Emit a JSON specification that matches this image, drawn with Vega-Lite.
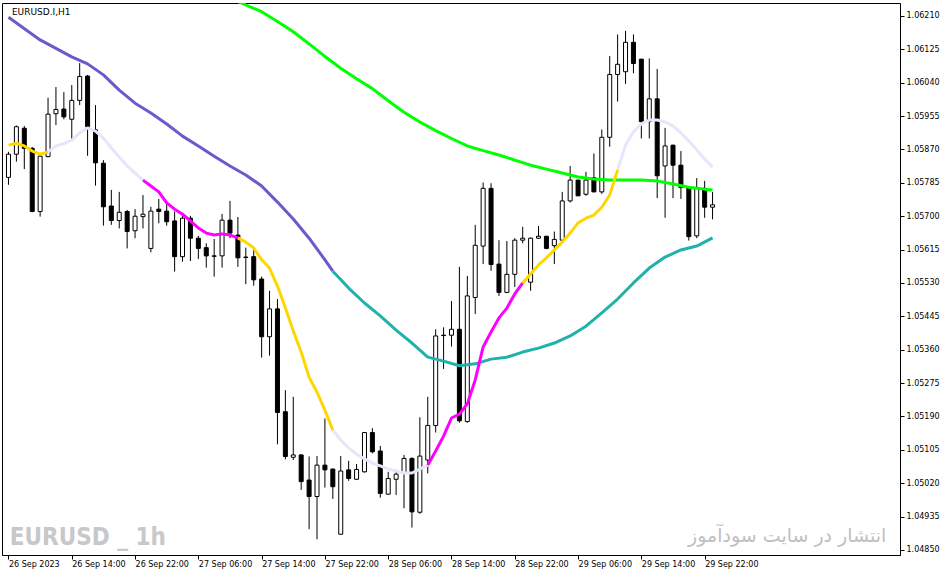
{
  "$schema": "https://vega.github.io/schema/vega-lite/v6.json",
  "width": 898,
  "height": 552,
  "autosize": {"type": "none"},
  "padding": {"left": 2, "top": 3, "right": 46, "bottom": 21},
  "background": "white",
  "config": {
    "view": {"stroke": "black", "strokeWidth": 1},
    "axis": {"labelFont": "DejaVu Sans", "labelFontSize": 8, "labelColor": "black", "domainColor": "black", "tickColor": "black", "grid": false, "title": null, "labelOverlap": false, "labelFlush": false}
  },
  "datasets": {
    "candles": [
      {"t":"2023-09-26T06:00Z","o":1.05799,"h":1.05864,"l":1.05780,"c":1.05858},
      {"t":"2023-09-26T07:00Z","o":1.05858,"h":1.05931,"l":1.05839,"c":1.05928},
      {"t":"2023-09-26T08:00Z","o":1.05924,"h":1.05930,"l":1.05820,"c":1.05873},
      {"t":"2023-09-26T09:00Z","o":1.05873,"h":1.05876,"l":1.05710,"c":1.05712},
      {"t":"2023-09-26T10:00Z","o":1.05712,"h":1.05858,"l":1.05699,"c":1.05853},
      {"t":"2023-09-26T11:00Z","o":1.05852,"h":1.06002,"l":1.05850,"c":1.05960},
      {"t":"2023-09-26T12:00Z","o":1.05961,"h":1.06029,"l":1.05932,"c":1.05972},
      {"t":"2023-09-26T13:00Z","o":1.05973,"h":1.06016,"l":1.05947,"c":1.05953},
      {"t":"2023-09-26T14:00Z","o":1.05947,"h":1.06034,"l":1.05894,"c":1.05995},
      {"t":"2023-09-26T15:00Z","o":1.05995,"h":1.06090,"l":1.05983,"c":1.06056},
      {"t":"2023-09-26T16:00Z","o":1.06057,"h":1.06060,"l":1.05854,"c":1.05928},
      {"t":"2023-09-26T17:00Z","o":1.05920,"h":1.05983,"l":1.05778,"c":1.05836},
      {"t":"2023-09-26T18:00Z","o":1.05835,"h":1.05843,"l":1.05676,"c":1.05724},
      {"t":"2023-09-26T19:00Z","o":1.05726,"h":1.05767,"l":1.05678,"c":1.05689},
      {"t":"2023-09-26T20:00Z","o":1.05689,"h":1.05762,"l":1.05669,"c":1.05710},
      {"t":"2023-09-26T21:00Z","o":1.05712,"h":1.05716,"l":1.05618,"c":1.05661},
      {"t":"2023-09-26T22:00Z","o":1.05663,"h":1.05718,"l":1.05644,"c":1.05700},
      {"t":"2023-09-26T23:00Z","o":1.05699,"h":1.05754,"l":1.05669,"c":1.05705},
      {"t":"2023-09-27T00:00Z","o":1.05618,"h":1.05724,"l":1.05608,"c":1.05713},
      {"t":"2023-09-27T01:00Z","o":1.05718,"h":1.05744,"l":1.05682,"c":1.05712},
      {"t":"2023-09-27T02:00Z","o":1.05713,"h":1.05737,"l":1.05676,"c":1.05686},
      {"t":"2023-09-27T03:00Z","o":1.05688,"h":1.05712,"l":1.05559,"c":1.05597},
      {"t":"2023-09-27T04:00Z","o":1.05597,"h":1.05707,"l":1.05584,"c":1.05695},
      {"t":"2023-09-27T05:00Z","o":1.05695,"h":1.05701,"l":1.05586,"c":1.05644},
      {"t":"2023-09-27T06:00Z","o":1.05644,"h":1.05650,"l":1.05591,"c":1.05618},
      {"t":"2023-09-27T07:00Z","o":1.05620,"h":1.05631,"l":1.05569,"c":1.05599},
      {"t":"2023-09-27T08:00Z","o":1.05599,"h":1.05642,"l":1.05546,"c":1.05598},
      {"t":"2023-09-27T09:00Z","o":1.05599,"h":1.05706,"l":1.05569,"c":1.05690},
      {"t":"2023-09-27T10:00Z","o":1.05690,"h":1.05739,"l":1.05644,"c":1.05657},
      {"t":"2023-09-27T11:00Z","o":1.05652,"h":1.05698,"l":1.05571,"c":1.05594},
      {"t":"2023-09-27T12:00Z","o":1.05596,"h":1.05620,"l":1.05527,"c":1.05595},
      {"t":"2023-09-27T13:00Z","o":1.05597,"h":1.05614,"l":1.05523,"c":1.05538},
      {"t":"2023-09-27T14:00Z","o":1.05540,"h":1.05546,"l":1.05340,"c":1.05393},
      {"t":"2023-09-27T15:00Z","o":1.05393,"h":1.05510,"l":1.05345,"c":1.05464},
      {"t":"2023-09-27T16:00Z","o":1.05464,"h":1.05489,"l":1.05119,"c":1.05200},
      {"t":"2023-09-27T17:00Z","o":1.05202,"h":1.05257,"l":1.05081,"c":1.05088},
      {"t":"2023-09-27T18:00Z","o":1.05086,"h":1.05240,"l":1.05079,"c":1.05092},
      {"t":"2023-09-27T19:00Z","o":1.05092,"h":1.05093,"l":1.05003,"c":1.05024},
      {"t":"2023-09-27T20:00Z","o":1.05028,"h":1.05088,"l":1.04903,"c":1.04986},
      {"t":"2023-09-27T21:00Z","o":1.04986,"h":1.05089,"l":1.04877,"c":1.05066},
      {"t":"2023-09-27T22:00Z","o":1.05066,"h":1.05185,"l":1.05009,"c":1.05054},
      {"t":"2023-09-27T23:00Z","o":1.05056,"h":1.05057,"l":1.04980,"c":1.05011},
      {"t":"2023-09-28T00:00Z","o":1.04890,"h":1.05089,"l":1.04889,"c":1.05051},
      {"t":"2023-09-28T01:00Z","o":1.05054,"h":1.05077,"l":1.05026,"c":1.05032},
      {"t":"2023-09-28T02:00Z","o":1.05030,"h":1.05069,"l":1.05028,"c":1.05055},
      {"t":"2023-09-28T03:00Z","o":1.05049,"h":1.05150,"l":1.05047,"c":1.05149},
      {"t":"2023-09-28T04:00Z","o":1.05149,"h":1.05160,"l":1.05096,"c":1.05100},
      {"t":"2023-09-28T05:00Z","o":1.05102,"h":1.05115,"l":1.04983,"c":1.04994},
      {"t":"2023-09-28T06:00Z","o":1.04992,"h":1.05049,"l":1.04990,"c":1.05032},
      {"t":"2023-09-28T07:00Z","o":1.05030,"h":1.05054,"l":1.04990,"c":1.05043},
      {"t":"2023-09-28T08:00Z","o":1.05045,"h":1.05092,"l":1.04956,"c":1.05083},
      {"t":"2023-09-28T09:00Z","o":1.05083,"h":1.05086,"l":1.04907,"c":1.04947},
      {"t":"2023-09-28T10:00Z","o":1.04946,"h":1.05188,"l":1.04942,"c":1.05089},
      {"t":"2023-09-28T11:00Z","o":1.05079,"h":1.05240,"l":1.05045,"c":1.05167},
      {"t":"2023-09-28T12:00Z","o":1.05167,"h":1.05412,"l":1.05149,"c":1.05395},
      {"t":"2023-09-28T13:00Z","o":1.05397,"h":1.05417,"l":1.05311,"c":1.05396},
      {"t":"2023-09-28T14:00Z","o":1.05397,"h":1.05484,"l":1.05368,"c":1.05412},
      {"t":"2023-09-28T15:00Z","o":1.05412,"h":1.05571,"l":1.05174,"c":1.05179},
      {"t":"2023-09-28T16:00Z","o":1.05177,"h":1.05548,"l":1.05174,"c":1.05497},
      {"t":"2023-09-28T17:00Z","o":1.05493,"h":1.05678,"l":1.05451,"c":1.05626},
      {"t":"2023-09-28T18:00Z","o":1.05624,"h":1.05786,"l":1.05578,"c":1.05771},
      {"t":"2023-09-28T19:00Z","o":1.05771,"h":1.05784,"l":1.05561,"c":1.05577},
      {"t":"2023-09-28T20:00Z","o":1.05578,"h":1.05639,"l":1.05497,"c":1.05506},
      {"t":"2023-09-28T21:00Z","o":1.05506,"h":1.05637,"l":1.05504,"c":1.05552},
      {"t":"2023-09-28T22:00Z","o":1.05552,"h":1.05644,"l":1.05520,"c":1.05639},
      {"t":"2023-09-28T23:00Z","o":1.05639,"h":1.05673,"l":1.05631,"c":1.05644},
      {"t":"2023-09-29T00:00Z","o":1.05532,"h":1.05646,"l":1.05510,"c":1.05644},
      {"t":"2023-09-29T01:00Z","o":1.05644,"h":1.05675,"l":1.05643,"c":1.05649},
      {"t":"2023-09-29T02:00Z","o":1.05649,"h":1.05650,"l":1.05616,"c":1.05618},
      {"t":"2023-09-29T03:00Z","o":1.05625,"h":1.05661,"l":1.05578,"c":1.05641},
      {"t":"2023-09-29T04:00Z","o":1.05639,"h":1.05762,"l":1.05638,"c":1.05739},
      {"t":"2023-09-29T05:00Z","o":1.05739,"h":1.05828,"l":1.05735,"c":1.05792},
      {"t":"2023-09-29T06:00Z","o":1.05792,"h":1.05793,"l":1.05751,"c":1.05752},
      {"t":"2023-09-29T07:00Z","o":1.05756,"h":1.05813,"l":1.05752,"c":1.05792},
      {"t":"2023-09-29T08:00Z","o":1.05798,"h":1.05860,"l":1.05761,"c":1.05762},
      {"t":"2023-09-29T09:00Z","o":1.05762,"h":1.05921,"l":1.05757,"c":1.05901},
      {"t":"2023-09-29T10:00Z","o":1.05901,"h":1.06108,"l":1.05877,"c":1.06061},
      {"t":"2023-09-29T11:00Z","o":1.06061,"h":1.06163,"l":1.05992,"c":1.06087},
      {"t":"2023-09-29T12:00Z","o":1.06068,"h":1.06172,"l":1.06037,"c":1.06143},
      {"t":"2023-09-29T13:00Z","o":1.06143,"h":1.06163,"l":1.06064,"c":1.06089},
      {"t":"2023-09-29T14:00Z","o":1.06100,"h":1.06101,"l":1.05898,"c":1.05941},
      {"t":"2023-09-29T15:00Z","o":1.05941,"h":1.06102,"l":1.05898,"c":1.05999},
      {"t":"2023-09-29T16:00Z","o":1.05999,"h":1.06075,"l":1.05746,"c":1.05803},
      {"t":"2023-09-29T17:00Z","o":1.05828,"h":1.05925,"l":1.05696,"c":1.05879},
      {"t":"2023-09-29T18:00Z","o":1.05881,"h":1.05882,"l":1.05746,"c":1.05830},
      {"t":"2023-09-29T19:00Z","o":1.05830,"h":1.05866,"l":1.05744,"c":1.05773},
      {"t":"2023-09-29T20:00Z","o":1.05773,"h":1.05774,"l":1.05638,"c":1.05648},
      {"t":"2023-09-29T21:00Z","o":1.05650,"h":1.05797,"l":1.05644,"c":1.05771},
      {"t":"2023-09-29T22:00Z","o":1.05771,"h":1.05790,"l":1.05696,"c":1.05723},
      {"t":"2023-09-29T23:00Z","o":1.05723,"h":1.05762,"l":1.05692,"c":1.05729}
    ],
    "slowlines": [
      {"t":"2023-09-26T06:00Z","v":1.06207,"seg":"m1","state":"medium falling"},
      {"t":"2023-09-26T10:00Z","v":1.06149,"seg":"m1","state":"medium falling"},
      {"t":"2023-09-26T14:00Z","v":1.06106,"seg":"m1","state":"medium falling"},
      {"t":"2023-09-26T16:00Z","v":1.06088,"seg":"m1","state":"medium falling"},
      {"t":"2023-09-26T18:00Z","v":1.06060,"seg":"m1","state":"medium falling"},
      {"t":"2023-09-26T20:00Z","v":1.06021,"seg":"m1","state":"medium falling"},
      {"t":"2023-09-26T22:00Z","v":1.05988,"seg":"m1","state":"medium falling"},
      {"t":"2023-09-27T00:00Z","v":1.05963,"seg":"m1","state":"medium falling"},
      {"t":"2023-09-27T02:00Z","v":1.05935,"seg":"m1","state":"medium falling"},
      {"t":"2023-09-27T04:00Z","v":1.05904,"seg":"m1","state":"medium falling"},
      {"t":"2023-09-27T06:00Z","v":1.05879,"seg":"m1","state":"medium falling"},
      {"t":"2023-09-27T08:00Z","v":1.05853,"seg":"m1","state":"medium falling"},
      {"t":"2023-09-27T10:00Z","v":1.05828,"seg":"m1","state":"medium falling"},
      {"t":"2023-09-27T12:00Z","v":1.05805,"seg":"m1","state":"medium falling"},
      {"t":"2023-09-27T14:00Z","v":1.05777,"seg":"m1","state":"medium falling"},
      {"t":"2023-09-27T16:00Z","v":1.05736,"seg":"m1","state":"medium falling"},
      {"t":"2023-09-27T18:00Z","v":1.05693,"seg":"m1","state":"medium falling"},
      {"t":"2023-09-27T20:00Z","v":1.05644,"seg":"m1","state":"medium falling"},
      {"t":"2023-09-27T22:00Z","v":1.05589,"seg":"m1","state":"medium falling"},
      {"t":"2023-09-27T23:00Z","v":1.05560,"seg":"m1","state":"medium falling"},
      {"t":"2023-09-27T23:00Z","v":1.05560,"seg":"m2","state":"medium rising"},
      {"t":"2023-09-28T01:00Z","v":1.05517,"seg":"m2","state":"medium rising"},
      {"t":"2023-09-28T03:00Z","v":1.05479,"seg":"m2","state":"medium rising"},
      {"t":"2023-09-28T05:00Z","v":1.05446,"seg":"m2","state":"medium rising"},
      {"t":"2023-09-28T07:00Z","v":1.05410,"seg":"m2","state":"medium rising"},
      {"t":"2023-09-28T09:00Z","v":1.05377,"seg":"m2","state":"medium rising"},
      {"t":"2023-09-28T11:00Z","v":1.05341,"seg":"m2","state":"medium rising"},
      {"t":"2023-09-28T13:00Z","v":1.05331,"seg":"m2","state":"medium rising"},
      {"t":"2023-09-28T15:00Z","v":1.05319,"seg":"m2","state":"medium rising"},
      {"t":"2023-09-28T17:00Z","v":1.05324,"seg":"m2","state":"medium rising"},
      {"t":"2023-09-28T19:00Z","v":1.05336,"seg":"m2","state":"medium rising"},
      {"t":"2023-09-28T21:00Z","v":1.05341,"seg":"m2","state":"medium rising"},
      {"t":"2023-09-28T23:00Z","v":1.05354,"seg":"m2","state":"medium rising"},
      {"t":"2023-09-29T01:00Z","v":1.05364,"seg":"m2","state":"medium rising"},
      {"t":"2023-09-29T03:00Z","v":1.05377,"seg":"m2","state":"medium rising"},
      {"t":"2023-09-29T05:00Z","v":1.05395,"seg":"m2","state":"medium rising"},
      {"t":"2023-09-29T07:00Z","v":1.05420,"seg":"m2","state":"medium rising"},
      {"t":"2023-09-29T09:00Z","v":1.05454,"seg":"m2","state":"medium rising"},
      {"t":"2023-09-29T11:00Z","v":1.05489,"seg":"m2","state":"medium rising"},
      {"t":"2023-09-29T13:00Z","v":1.05530,"seg":"m2","state":"medium rising"},
      {"t":"2023-09-29T15:00Z","v":1.05568,"seg":"m2","state":"medium rising"},
      {"t":"2023-09-29T17:00Z","v":1.05596,"seg":"m2","state":"medium rising"},
      {"t":"2023-09-29T19:00Z","v":1.05614,"seg":"m2","state":"medium rising"},
      {"t":"2023-09-29T21:00Z","v":1.05624,"seg":"m2","state":"medium rising"},
      {"t":"2023-09-29T23:00Z","v":1.05645,"seg":"m2","state":"medium rising"},
      {"t":"2023-09-27T10:00Z","v":1.06256,"seg":"l1","state":"long"},
      {"t":"2023-09-27T12:00Z","v":1.06238,"seg":"l1","state":"long"},
      {"t":"2023-09-27T14:00Z","v":1.06221,"seg":"l1","state":"long"},
      {"t":"2023-09-27T16:00Z","v":1.06196,"seg":"l1","state":"long"},
      {"t":"2023-09-27T18:00Z","v":1.06170,"seg":"l1","state":"long"},
      {"t":"2023-09-27T20:00Z","v":1.06139,"seg":"l1","state":"long"},
      {"t":"2023-09-27T22:00Z","v":1.06107,"seg":"l1","state":"long"},
      {"t":"2023-09-28T00:00Z","v":1.06077,"seg":"l1","state":"long"},
      {"t":"2023-09-28T02:00Z","v":1.06050,"seg":"l1","state":"long"},
      {"t":"2023-09-28T04:00Z","v":1.06025,"seg":"l1","state":"long"},
      {"t":"2023-09-28T06:00Z","v":1.05994,"seg":"l1","state":"long"},
      {"t":"2023-09-28T08:00Z","v":1.05965,"seg":"l1","state":"long"},
      {"t":"2023-09-28T10:00Z","v":1.05940,"seg":"l1","state":"long"},
      {"t":"2023-09-28T12:00Z","v":1.05918,"seg":"l1","state":"long"},
      {"t":"2023-09-28T14:00Z","v":1.05898,"seg":"l1","state":"long"},
      {"t":"2023-09-28T16:00Z","v":1.05879,"seg":"l1","state":"long"},
      {"t":"2023-09-28T18:00Z","v":1.05867,"seg":"l1","state":"long"},
      {"t":"2023-09-28T20:00Z","v":1.05856,"seg":"l1","state":"long"},
      {"t":"2023-09-28T22:00Z","v":1.05843,"seg":"l1","state":"long"},
      {"t":"2023-09-29T00:00Z","v":1.05830,"seg":"l1","state":"long"},
      {"t":"2023-09-29T02:00Z","v":1.05820,"seg":"l1","state":"long"},
      {"t":"2023-09-29T04:00Z","v":1.05810,"seg":"l1","state":"long"},
      {"t":"2023-09-29T06:00Z","v":1.05800,"seg":"l1","state":"long"},
      {"t":"2023-09-29T08:00Z","v":1.05795,"seg":"l1","state":"long"},
      {"t":"2023-09-29T10:00Z","v":1.05792,"seg":"l1","state":"long"},
      {"t":"2023-09-29T14:00Z","v":1.05792,"seg":"l1","state":"long"},
      {"t":"2023-09-29T16:00Z","v":1.05790,"seg":"l1","state":"long"},
      {"t":"2023-09-29T18:00Z","v":1.05782,"seg":"l1","state":"long"},
      {"t":"2023-09-29T20:00Z","v":1.05774,"seg":"l1","state":"long"},
      {"t":"2023-09-29T22:00Z","v":1.05769,"seg":"l1","state":"long"},
      {"t":"2023-09-29T23:00Z","v":1.05767,"seg":"l1","state":"long"}
    ],
    "fastline": [
      {"t":"2023-09-26T06:00Z","v":1.05881,"seg":"f1","state":"fast A"},
      {"t":"2023-09-26T07:00Z","v":1.05886,"seg":"f1","state":"fast A"},
      {"t":"2023-09-26T08:00Z","v":1.05879,"seg":"f1","state":"fast A"},
      {"t":"2023-09-26T09:00Z","v":1.05866,"seg":"f1","state":"fast A"},
      {"t":"2023-09-26T10:00Z","v":1.05858,"seg":"f1","state":"fast A"},
      {"t":"2023-09-26T11:00Z","v":1.05864,"seg":"f1","state":"fast A"},
      {"t":"2023-09-26T11:00Z","v":1.05864,"seg":"f2","state":"fast B"},
      {"t":"2023-09-26T12:00Z","v":1.05879,"seg":"f2","state":"fast B"},
      {"t":"2023-09-26T13:00Z","v":1.05885,"seg":"f2","state":"fast B"},
      {"t":"2023-09-26T14:00Z","v":1.05894,"seg":"f2","state":"fast B"},
      {"t":"2023-09-26T15:00Z","v":1.05912,"seg":"f2","state":"fast B"},
      {"t":"2023-09-26T16:00Z","v":1.05925,"seg":"f2","state":"fast B"},
      {"t":"2023-09-26T17:00Z","v":1.05917,"seg":"f2","state":"fast B"},
      {"t":"2023-09-26T18:00Z","v":1.05899,"seg":"f2","state":"fast B"},
      {"t":"2023-09-26T19:00Z","v":1.05874,"seg":"f2","state":"fast B"},
      {"t":"2023-09-26T20:00Z","v":1.05851,"seg":"f2","state":"fast B"},
      {"t":"2023-09-26T21:00Z","v":1.05828,"seg":"f2","state":"fast B"},
      {"t":"2023-09-26T22:00Z","v":1.05810,"seg":"f2","state":"fast B"},
      {"t":"2023-09-26T23:00Z","v":1.05792,"seg":"f2","state":"fast B"},
      {"t":"2023-09-26T23:00Z","v":1.05792,"seg":"f3","state":"fast C"},
      {"t":"2023-09-27T00:00Z","v":1.05777,"seg":"f3","state":"fast C"},
      {"t":"2023-09-27T01:00Z","v":1.05762,"seg":"f3","state":"fast C"},
      {"t":"2023-09-27T02:00Z","v":1.05734,"seg":"f3","state":"fast C"},
      {"t":"2023-09-27T03:00Z","v":1.05718,"seg":"f3","state":"fast C"},
      {"t":"2023-09-27T04:00Z","v":1.05705,"seg":"f3","state":"fast C"},
      {"t":"2023-09-27T05:00Z","v":1.05688,"seg":"f3","state":"fast C"},
      {"t":"2023-09-27T06:00Z","v":1.05670,"seg":"f3","state":"fast C"},
      {"t":"2023-09-27T07:00Z","v":1.05657,"seg":"f3","state":"fast C"},
      {"t":"2023-09-27T08:00Z","v":1.05652,"seg":"f3","state":"fast C"},
      {"t":"2023-09-27T09:00Z","v":1.05655,"seg":"f3","state":"fast C"},
      {"t":"2023-09-27T10:00Z","v":1.05652,"seg":"f3","state":"fast C"},
      {"t":"2023-09-27T11:00Z","v":1.05645,"seg":"f3","state":"fast C"},
      {"t":"2023-09-27T11:00Z","v":1.05645,"seg":"f4","state":"fast A"},
      {"t":"2023-09-27T12:00Z","v":1.05634,"seg":"f4","state":"fast A"},
      {"t":"2023-09-27T13:00Z","v":1.05619,"seg":"f4","state":"fast A"},
      {"t":"2023-09-27T14:00Z","v":1.05589,"seg":"f4","state":"fast A"},
      {"t":"2023-09-27T15:00Z","v":1.05568,"seg":"f4","state":"fast A"},
      {"t":"2023-09-27T16:00Z","v":1.05522,"seg":"f4","state":"fast A"},
      {"t":"2023-09-27T17:00Z","v":1.05466,"seg":"f4","state":"fast A"},
      {"t":"2023-09-27T18:00Z","v":1.05408,"seg":"f4","state":"fast A"},
      {"t":"2023-09-27T19:00Z","v":1.05354,"seg":"f4","state":"fast A"},
      {"t":"2023-09-27T20:00Z","v":1.05290,"seg":"f4","state":"fast A"},
      {"t":"2023-09-27T21:00Z","v":1.05252,"seg":"f4","state":"fast A"},
      {"t":"2023-09-27T22:00Z","v":1.05206,"seg":"f4","state":"fast A"},
      {"t":"2023-09-27T23:00Z","v":1.05155,"seg":"f4","state":"fast A"},
      {"t":"2023-09-27T23:00Z","v":1.05155,"seg":"f5","state":"fast B"},
      {"t":"2023-09-28T00:00Z","v":1.05130,"seg":"f5","state":"fast B"},
      {"t":"2023-09-28T01:00Z","v":1.05110,"seg":"f5","state":"fast B"},
      {"t":"2023-09-28T02:00Z","v":1.05094,"seg":"f5","state":"fast B"},
      {"t":"2023-09-28T03:00Z","v":1.05082,"seg":"f5","state":"fast B"},
      {"t":"2023-09-28T04:00Z","v":1.05071,"seg":"f5","state":"fast B"},
      {"t":"2023-09-28T05:00Z","v":1.05064,"seg":"f5","state":"fast B"},
      {"t":"2023-09-28T06:00Z","v":1.05056,"seg":"f5","state":"fast B"},
      {"t":"2023-09-28T07:00Z","v":1.05051,"seg":"f5","state":"fast B"},
      {"t":"2023-09-28T08:00Z","v":1.05046,"seg":"f5","state":"fast B"},
      {"t":"2023-09-28T09:00Z","v":1.05046,"seg":"f5","state":"fast B"},
      {"t":"2023-09-28T10:00Z","v":1.05056,"seg":"f5","state":"fast B"},
      {"t":"2023-09-28T11:00Z","v":1.05066,"seg":"f5","state":"fast B"},
      {"t":"2023-09-28T11:00Z","v":1.05066,"seg":"f6","state":"fast C"},
      {"t":"2023-09-28T12:00Z","v":1.05102,"seg":"f6","state":"fast C"},
      {"t":"2023-09-28T13:00Z","v":1.05140,"seg":"f6","state":"fast C"},
      {"t":"2023-09-28T14:00Z","v":1.05186,"seg":"f6","state":"fast C"},
      {"t":"2023-09-28T15:00Z","v":1.05196,"seg":"f6","state":"fast C"},
      {"t":"2023-09-28T16:00Z","v":1.05222,"seg":"f6","state":"fast C"},
      {"t":"2023-09-28T17:00Z","v":1.05283,"seg":"f6","state":"fast C"},
      {"t":"2023-09-28T18:00Z","v":1.05367,"seg":"f6","state":"fast C"},
      {"t":"2023-09-28T19:00Z","v":1.05405,"seg":"f6","state":"fast C"},
      {"t":"2023-09-28T20:00Z","v":1.05441,"seg":"f6","state":"fast C"},
      {"t":"2023-09-28T21:00Z","v":1.05466,"seg":"f6","state":"fast C"},
      {"t":"2023-09-28T22:00Z","v":1.05502,"seg":"f6","state":"fast C"},
      {"t":"2023-09-28T23:00Z","v":1.05530,"seg":"f6","state":"fast C"},
      {"t":"2023-09-28T23:00Z","v":1.05530,"seg":"f7","state":"fast A"},
      {"t":"2023-09-29T00:00Z","v":1.05553,"seg":"f7","state":"fast A"},
      {"t":"2023-09-29T01:00Z","v":1.05576,"seg":"f7","state":"fast A"},
      {"t":"2023-09-29T02:00Z","v":1.05594,"seg":"f7","state":"fast A"},
      {"t":"2023-09-29T03:00Z","v":1.05614,"seg":"f7","state":"fast A"},
      {"t":"2023-09-29T04:00Z","v":1.05634,"seg":"f7","state":"fast A"},
      {"t":"2023-09-29T05:00Z","v":1.05657,"seg":"f7","state":"fast A"},
      {"t":"2023-09-29T06:00Z","v":1.05683,"seg":"f7","state":"fast A"},
      {"t":"2023-09-29T07:00Z","v":1.05695,"seg":"f7","state":"fast A"},
      {"t":"2023-09-29T08:00Z","v":1.05703,"seg":"f7","state":"fast A"},
      {"t":"2023-09-29T09:00Z","v":1.05723,"seg":"f7","state":"fast A"},
      {"t":"2023-09-29T10:00Z","v":1.05754,"seg":"f7","state":"fast A"},
      {"t":"2023-09-29T11:00Z","v":1.05818,"seg":"f7","state":"fast A"},
      {"t":"2023-09-29T11:00Z","v":1.05818,"seg":"f8","state":"fast B"},
      {"t":"2023-09-29T12:00Z","v":1.05881,"seg":"f8","state":"fast B"},
      {"t":"2023-09-29T13:00Z","v":1.05915,"seg":"f8","state":"fast B"},
      {"t":"2023-09-29T14:00Z","v":1.05935,"seg":"f8","state":"fast B"},
      {"t":"2023-09-29T15:00Z","v":1.05945,"seg":"f8","state":"fast B"},
      {"t":"2023-09-29T16:00Z","v":1.05945,"seg":"f8","state":"fast B"},
      {"t":"2023-09-29T17:00Z","v":1.05940,"seg":"f8","state":"fast B"},
      {"t":"2023-09-29T18:00Z","v":1.05930,"seg":"f8","state":"fast B"},
      {"t":"2023-09-29T19:00Z","v":1.05912,"seg":"f8","state":"fast B"},
      {"t":"2023-09-29T20:00Z","v":1.05892,"seg":"f8","state":"fast B"},
      {"t":"2023-09-29T21:00Z","v":1.05869,"seg":"f8","state":"fast B"},
      {"t":"2023-09-29T22:00Z","v":1.05846,"seg":"f8","state":"fast B"},
      {"t":"2023-09-29T23:00Z","v":1.05825,"seg":"f8","state":"fast B"}
    ]
  },
  "layer": [
    {
      "data": {"name": "candles"},
      "mark": {"type": "rule", "color": "black", "strokeWidth": 1},
      "encoding": {
        "x": {
          "field": "t", "type": "temporal",
          "scale": {"type": "utc", "nice": false, "domain": [
            {"year": 2023, "month": 9, "date": 26, "hours": 5, "minutes": 48, "seconds": 45, "utc": true},
            {"year": 2023, "month": 9, "date": 30, "hours": 22, "minutes": 3, "seconds": 45, "utc": true}
          ]},
          "axis": {
            "orient": "bottom",
            "values": [
              {"year": 2023, "month": 9, "date": 26, "hours": 6, "utc": true},
              {"year": 2023, "month": 9, "date": 26, "hours": 14, "utc": true},
              {"year": 2023, "month": 9, "date": 26, "hours": 22, "utc": true},
              {"year": 2023, "month": 9, "date": 27, "hours": 6, "utc": true},
              {"year": 2023, "month": 9, "date": 27, "hours": 14, "utc": true},
              {"year": 2023, "month": 9, "date": 27, "hours": 22, "utc": true},
              {"year": 2023, "month": 9, "date": 28, "hours": 6, "utc": true},
              {"year": 2023, "month": 9, "date": 28, "hours": 14, "utc": true},
              {"year": 2023, "month": 9, "date": 28, "hours": 22, "utc": true},
              {"year": 2023, "month": 9, "date": 29, "hours": 6, "utc": true},
              {"year": 2023, "month": 9, "date": 29, "hours": 14, "utc": true},
              {"year": 2023, "month": 9, "date": 29, "hours": 22, "utc": true}
            ],
            "tickCount": 40,
            "labelExpr": "utcFormat(datum.value, '%d %H') == '26 06' ? '26 Sep 2023' : utcFormat(datum.value, '%d %b %H:%M')",
            "labelAlign": "left",
            "labelBaseline": "top",
            "labelOverlap": false,
            "tickSize": 4,
            "labelPadding": 1
          }
        },
        "y": {
          "field": "l", "type": "quantitative",
          "scale": {"domain": [1.048371, 1.062431], "nice": false, "zero": false},
          "axis": {
            "orient": "right",
            "values": [1.04850, 1.04935, 1.05020, 1.05105, 1.05190, 1.05275, 1.05360, 1.05445, 1.05530, 1.05615, 1.05700, 1.05785, 1.05870, 1.05955, 1.06040, 1.06125, 1.06210],
            "tickCount": 40,
            "format": ".5f",
            "labelOverlap": false,
            "tickSize": 4,
            "labelPadding": 2,
            "labelBaseline": "middle"
          }
        },
        "y2": {"field": "h"}
      }
    },
    {
      "data": {"name": "candles"},
      "mark": {"type": "bar", "width": 4, "stroke": "black", "strokeWidth": 1},
      "encoding": {
        "x": {"field": "t", "type": "temporal"},
        "y": {"field": "o", "type": "quantitative"},
        "y2": {"field": "c"},
        "fill": {"condition": {"test": "datum.c > datum.o", "value": "white"}, "value": "black"}
      }
    },
    {
      "data": {"name": "slowlines"},
      "mark": {"type": "line", "strokeWidth": 3, "clip": true, "strokeJoin": "round"},
      "encoding": {
        "x": {"field": "t", "type": "temporal"},
        "y": {"field": "v", "type": "quantitative"},
        "detail": {"field": "seg"},
        "color": {"field": "state", "type": "nominal", "legend": null, "scale": {
          "domain": ["medium falling", "medium rising", "long", "fast A", "fast B", "fast C"],
          "range": ["#6A5ACD", "#20B2AA", "#00FF00", "#FFD700", "#E6E6FA", "#FF00FF"]}}
      }
    },
    {
      "data": {"name": "fastline"},
      "mark": {"type": "line", "strokeWidth": 3, "clip": true, "strokeJoin": "round"},
      "encoding": {
        "x": {"field": "t", "type": "temporal"},
        "y": {"field": "v", "type": "quantitative"},
        "detail": {"field": "seg"},
        "color": {"field": "state", "type": "nominal", "legend": null}
      }
    },
    {
      "data": {"values": [{"label": "EURUSD.I,H1"}]},
      "mark": {"type": "text", "align": "left", "baseline": "middle", "font": "DejaVu Sans", "fontSize": 9, "color": "black"},
      "encoding": {
        "x": {"datum": {"year": 2023, "month": 9, "date": 26, "hours": 6, "minutes": 26, "utc": true}, "type": "temporal"},
        "y": {"datum": 1.06220, "type": "quantitative"},
        "text": {"field": "label"}
      }
    },
    {
      "data": {"values": [{"label": "EURUSD _ 1h"}]},
      "mark": {"type": "text", "align": "left", "baseline": "alphabetic", "font": "DejaVu Sans Condensed, sans-serif", "fontSize": 24, "fontWeight": "bold", "color": "#c8c8c8"},
      "encoding": {
        "x": {"datum": {"year": 2023, "month": 9, "date": 26, "hours": 6, "minutes": 10, "utc": true}, "type": "temporal"},
        "y": {"datum": 1.04863, "type": "quantitative"},
        "text": {"field": "label"}
      }
    },
    {
      "data": {"values": [{"label": "انتشار در سایت سودآموز"}]},
      "mark": {"type": "text", "align": "right", "baseline": "middle", "font": "DejaVu Sans", "fontSize": 19, "color": "#c0c0c0"},
      "encoding": {
        "x": {"datum": {"year": 2023, "month": 9, "date": 30, "hours": 20, "minutes": 58, "utc": true}, "type": "temporal"},
        "y": {"datum": 1.04886, "type": "quantitative"},
        "text": {"field": "label"}
      }
    }
  ]
}
